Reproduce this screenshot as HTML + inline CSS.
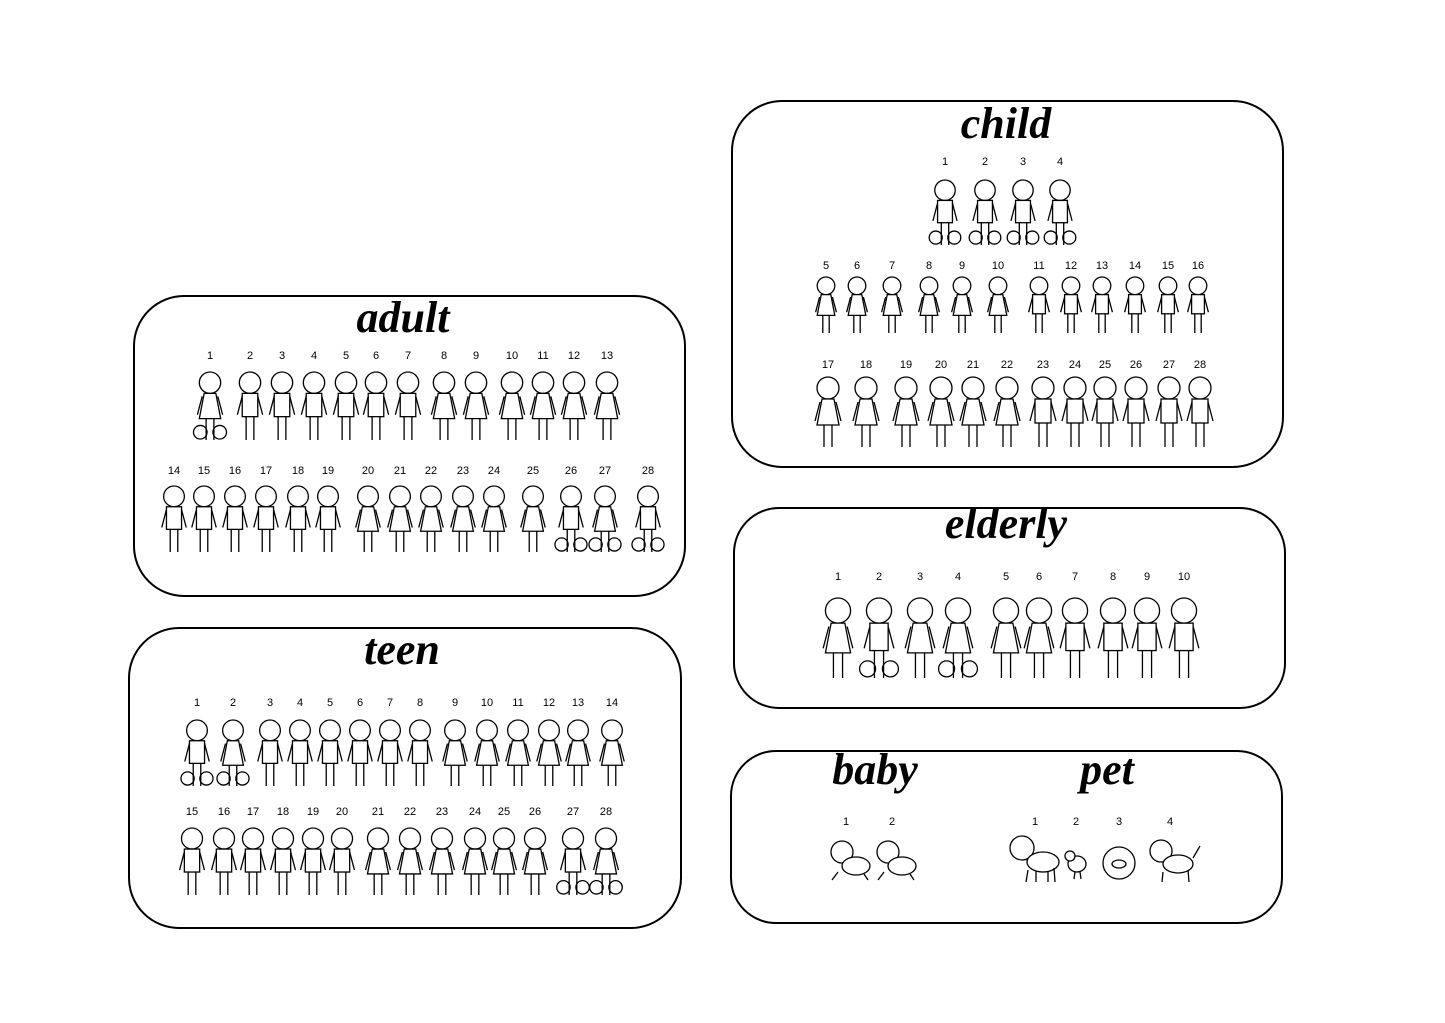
<!DOCTYPE html>
<html><head><meta charset="utf-8"><style>
html,body{margin:0;padding:0;background:#fff;}
body{width:1445px;height:1023px;position:relative;overflow:hidden;font-family:"Liberation Sans",sans-serif;}
svg{position:absolute;left:0;top:0;}
.t{font-family:"Liberation Serif",serif;font-style:italic;font-weight:bold;font-size:44px;text-anchor:middle;}
.n{font-size:11px;text-anchor:middle;}
</style></head><body>
<svg id="s" width="1445" height="1023" viewBox="0 0 1445 1023">
<g fill="none" stroke="#000" stroke-width="2">
<rect x="134" y="296" width="551" height="300" rx="50"/>
<rect x="129" y="628" width="552" height="300" rx="50"/>
<rect x="732" y="101" width="551" height="366" rx="50"/>
<rect x="734" y="508" width="551" height="200" rx="45"/>
<rect x="731" y="751" width="551" height="172" rx="45"/>
</g>
<text class="t" x="403" y="332">adult</text>
<text class="t" x="402" y="664">teen</text>
<text class="t" x="1006" y="138">child</text>
<text class="t" x="1006" y="538">elderly</text>
<text class="t" x="875" y="784">baby</text>
<text class="t" x="1107" y="784">pet</text>
<g id="f" fill="#fff" stroke="#000" stroke-width="1.3"></g>
<g id="nums"></g>
</svg>
<script>
var ns="http://www.w3.org/2000/svg",f=document.getElementById('f'),nm=document.getElementById('nums');
function el(t,a,p){var e=document.createElementNS(ns,t);for(var k in a)e.setAttribute(k,a[k]);(p||f).appendChild(e);return e;}
function num(x,y,n){var e=el('text',{x:x,y:y,'class':'n'},nm);e.textContent=n;}
function fig(x,top,h,dress,wheel){var s=h/70,r=11*s;
 var bot=top+h;
 if(wheel){el('circle',{cx:x-10*s,cy:bot-8*s,r:7*s,fill:'none'});el('circle',{cx:x+10*s,cy:bot-8*s,r:7*s,fill:'none'});}
 el('circle',{cx:x,cy:top+r,r:r});
 var by=top+2*r;
 if(dress) el('path',{d:'M'+(x-6*s)+' '+by+' L'+(x+6*s)+' '+by+' L'+(x+11*s)+' '+(by+26*s)+' L'+(x-11*s)+' '+(by+26*s)+'Z'});
 else el('rect',{x:x-8*s,y:by,width:16*s,height:24*s});
 el('path',{d:'M'+(x-8*s)+' '+(by+3*s)+' L'+(x-13*s)+' '+(by+22*s)+' M'+(x+8*s)+' '+(by+3*s)+' L'+(x+13*s)+' '+(by+22*s),fill:'none'});
 var ly=by+(dress?26:24)*s;
 el('path',{d:'M'+(x-4*s)+' '+ly+' L'+(x-4*s)+' '+bot+' M'+(x+4*s)+' '+ly+' L'+(x+4*s)+' '+bot,fill:'none'});
}
function R(xs,ny,top,h,start,dr,wh){xs.forEach(function(x,i){num(x,ny,start+i);fig(x,top,h,dr.indexOf(i)>=0,wh.indexOf(i)>=0);});}
R([210,250,282,314,346,376,408,444,476,512,543,574,607],359,372,68,1,[0,7,8,9,10,11,12],[0]);
R([174,204,235,266,298,328,368,400,431,463,494,533,571,605,648],474,486,66,14,[6,7,8,9,10,11,13],[12,13,14]);
R([197,233,270,300,330,360,390,420,455,487,518,549,578,612],706,720,66,1,[1,8,9,10,11,12,13],[0,1]);
R([192,224,253,283,313,342,378,410,442,475,504,535,573,606],815,828,67,15,[6,7,8,9,10,11,13],[12,13]);
R([945,985,1023,1060],165,180,65,1,[],[0,1,2,3]);
R([826,857,892,929,962,998,1039,1071,1102,1135,1168,1198],269,277,56,5,[0,1,2,3,4,5],[]);
R([828,866,906,941,973,1007,1043,1075,1105,1136,1169,1200],368,377,70,17,[0,1,2,3,4,5],[]);
R([838,879,920,958,1006,1039,1075,1113,1147,1184],580,598,80,1,[0,2,3,4,5],[1,3]);
[846,892].forEach(function(x,i){num(x,825,i+1);el('circle',{cx:x-4,cy:852,r:11});el('ellipse',{cx:x+10,cy:866,rx:14,ry:9});el('path',{d:'M'+(x-8)+' 872 L'+(x-14)+' 880 M'+(x+18)+' 874 L'+(x+22)+' 880',fill:'none'});});
[1035,1076,1119,1170].forEach(function(x,i){num(x,825,i+1);});
el('circle',{cx:1022,cy:848,r:12});el('ellipse',{cx:1043,cy:862,rx:16,ry:10});el('path',{d:'M1028 870 L1026 882 M1054 868 L1055 882 M1036 871 L1036 882 M1048 871 L1048 882',fill:'none'});
el('ellipse',{cx:1077,cy:864,rx:9,ry:8});el('circle',{cx:1070,cy:856,r:5});el('path',{d:'M1075 872 L1074 879 M1080 872 L1081 879',fill:'none'});
el('circle',{cx:1119,cy:863,r:16});el('ellipse',{cx:1119,cy:864,rx:7,ry:4});
el('circle',{cx:1161,cy:851,r:11});el('ellipse',{cx:1178,cy:864,rx:15,ry:9});el('path',{d:'M1163 872 L1162 882 M1188 870 L1189 882 M1193 858 L1200 846',fill:'none'});
</script>
</body></html>
